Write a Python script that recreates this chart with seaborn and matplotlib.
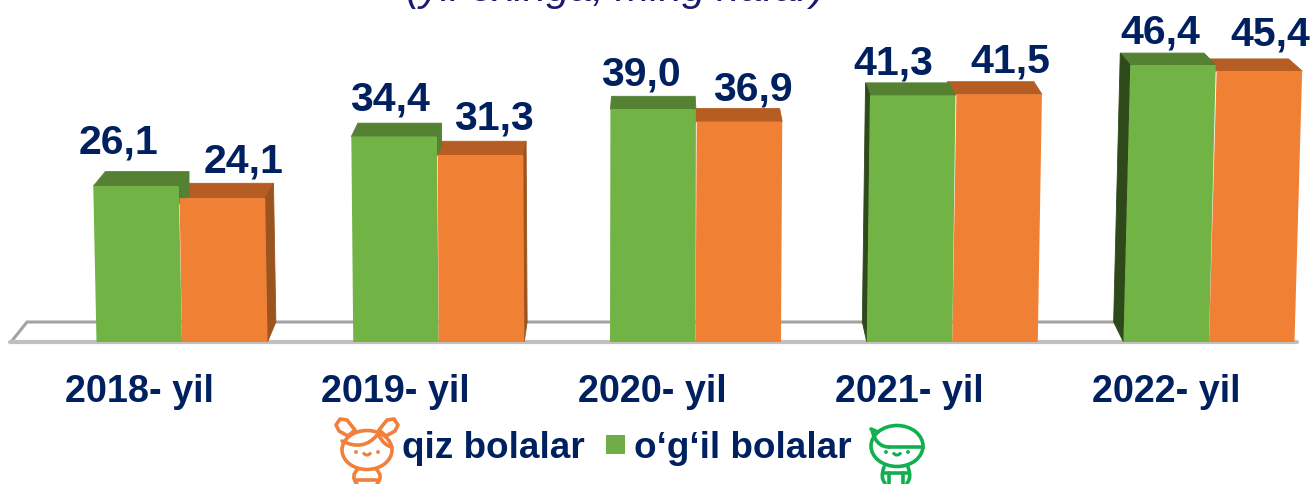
import matplotlib
matplotlib.use("Agg")
import matplotlib.pyplot as plt
from matplotlib.patches import Polygon, Circle, Arc, Rectangle, Ellipse, PathPatch
from matplotlib.path import Path
from matplotlib.transforms import Affine2D
import pandas as pd
import seaborn as sns

years = ["2018- yil", "2019- yil", "2020- yil", "2021- yil", "2022- yil"]
boys = [26.1, 34.4, 39.0, 41.3, 46.4]
girls = [24.1, 31.3, 36.9, 41.5, 45.4]
boy_name = "o‘g‘il bolalar"
girl_name = "qiz bolalar"
subtitle = "(yil oxiriga, ming nafar)"

NAVY = "#002060"
GREEN, ORANGE = "#72b345", "#f08033"
GREEN_TOP, ORANGE_TOP = "#548232", "#b55d22"
GREEN_SIDE, ORANGE_SIDE = "#2e4a1a", "#9c541f"
FONT = "Liberation Sans"

W, H = 1313, 484
BASE = 342
UX, UY = 256.75, 5.97   # pixels per data unit
X0 = 182

df = pd.DataFrame({
    "yil": years * 2,
    "qiymat": boys + girls,
    "jins": [boy_name] * 5 + [girl_name] * 5,
})

sns.set_theme(style="white")
plt.rcParams["font.family"] = [FONT, "DejaVu Sans"]
fig = plt.figure(figsize=(W / 100, H / 100), dpi=100)
ax = fig.add_axes([0, (H - BASE) / H, 1, BASE / H])
sns.barplot(data=df, x="yil", y="qiymat", hue="jins", hue_order=[boy_name, girl_name],
            palette=[GREEN, ORANGE], width=171 / UX, gap=0, saturation=1, legend=False,
            ax=ax, zorder=3)
ax.set_xlim(-X0 / UX, (W - X0) / UX)
ax.set_ylim(0, BASE / UY)
ax.set_xlabel("")
ax.set_ylabel("")
ax.set_yticks([])
ax.set_xticks([i - 43 / UX for i in range(len(years))], years)
ax.tick_params(axis="x", length=0, pad=23)
for lab in ax.get_xticklabels():
    lab.set(fontsize=27.2, fontweight="bold", color=NAVY, family=FONT)
for s in ax.spines.values():
    s.set_visible(False)
ax.patch.set_alpha(0)


def px(x, y):
    """pixel position -> data position"""
    return ((x - X0) / UX, (BASE - y) / UY)


# floor
ax.add_patch(Polygon([px(11, 342), px(27, 322), px(1125, 322)], closed=False, fill=False,
                     ec="#a3a3a3", lw=2.2, zorder=1))
ax.plot(*zip(px(10, 342), px(1297, 342)), color="#c0c0c0", lw=3, zorder=1, clip_on=False)

bars = [b for b in ax.patches if isinstance(b, Rectangle) and b.get_height() > 0]
n = len(years)
K = 4.4e-5   # leaning of the bars


def face_poly(points, color, z):
    ax.add_patch(Polygon(points, fc=color, ec=color, lw=0.6, zorder=z))


for i, b in enumerate(bars):
    is_boy = i < n
    xl = X0 + b.get_x() * UX
    xr = xl + b.get_width() * UX
    h = b.get_height() * UY
    s = K * ((xl + xr) / 2 - 610) * UY / UX
    b.set_transform(Affine2D.from_values(1, 0, s, 1, 0, 0) + ax.transData)
    b.set_edgecolor("none")
    lean = K * ((xl + xr) / 2 - 610) * h
    top = BASE - h
    tl, tr = xl + lean, xr + lean
    depth = lambda x: -(x - 660) * 0.0213
    dy = 18 - 0.022 * h
    extra = 0 if is_boy else 3
    face_poly([px(tl - extra, top), px(tr, top), px(tr + depth(tr), top - dy),
               px(tl + depth(tl) - extra, top - dy)],
              GREEN_TOP if is_boy else ORANGE_TOP, 2 if is_boy else 1.5)
    if is_boy and depth(tl) < 0:
        face_poly([px(xl, BASE), px(tl, top), px(tl + depth(tl), top - dy),
                   px(xl + depth(xl), BASE - 20)], GREEN_SIDE, 2)
    if is_boy and depth(tr) > 0:
        face_poly([px(tr, top), px(tr + depth(tr), top - dy),
                   px(tr + depth(tr), top + 10), px(tr, top + 18)], GREEN_TOP, 2)
    if not is_boy and depth(tr) > 0:
        face_poly([px(xr, BASE), px(tr, top), px(tr + depth(tr), top - dy),
                   px(xr + depth(xr), BASE - 20)], ORANGE_SIDE, 2)

# value labels: pixel offsets from the bar's top centre
offsets = [(-21, 33), (-6, 26), (-12, 24), (-16, 21), (-6, 21),
           (19, 26), (12, 26), (15, 21), (15, 22), (19, 25)]
values = boys + girls
for b, v, (dx, dy) in zip(bars, values, offsets):
    ax.annotate(f"{v:.1f}".replace(".", ","), (b.get_x() + b.get_width() / 2, v),
                xytext=(dx, dy), textcoords="offset pixels", ha="center", va="baseline",
                fontsize=29.5, fontweight="bold", color=NAVY, annotation_clip=False)

# overlay in pixel coordinates for subtitle, legend and the two figures
ov = fig.add_axes([0, 0, 1, 1], zorder=5)
ov.set_xlim(0, W)
ov.set_ylim(H, 0)
ov.axis("off")
ov.text(615, 1, subtitle, ha="center", va="baseline", fontsize=29.8, style="italic",
        color="#1b1a6b", clip_on=False)
ov.text(402, 458, girl_name, ha="left", va="baseline", fontsize=26.6, fontweight="bold", color=NAVY)
ov.text(634, 458, boy_name, ha="left", va="baseline", fontsize=26.6, fontweight="bold", color=NAVY)
ov.add_patch(Rectangle((606, 435), 19, 19, fc="#70ad47", ec="none"))

LW = 2.6


def curve(points, color):
    codes = [Path.MOVETO] + [Path.CURVE3] * (len(points) - 1)
    ov.add_patch(PathPatch(Path(points, codes), fc="none", ec=color, lw=LW, capstyle="round"))


def face_marks(cx, cy, color):
    for ex in (-11, 11):
        ov.add_patch(Circle((cx + ex, cy), 1.9, fc=color, ec="none"))
    ov.add_patch(Arc((cx, cy - 1), 8, 8, theta1=20, theta2=160, ec=color, lw=2.2))


# girl
GI = "#f0803a"
for sx in (-1, 1):
    ov.add_patch(Polygon([(367 + sx * 12, 430), (367 + sx * 20, 420), (367 + sx * 27, 419),
                          (367 + sx * 31, 425), (367 + sx * 28, 431), (367 + sx * 19, 436)],
                         fc="white", ec=GI, lw=LW, joinstyle="round"))
ov.add_patch(Ellipse((367, 450), 50, 39, fc="white", ec=GI, lw=LW))
curve([(342, 441), (364, 452), (378, 434)], GI)
curve([(378, 434), (384, 446), (392, 447)], GI)
face_marks(367, 452, GI)
curve([(358, 469), (350, 476), (357, 484)], GI)
curve([(376, 469), (384, 476), (377, 484)], GI)
ov.plot([357, 377], [480, 480], color=GI, lw=LW)

# boy
BO = "#10b04f"
ov.add_patch(Ellipse((897, 446), 52, 41, fc="white", ec=BO, lw=LW))
curve([(872, 430), (876, 447), (889, 447)], BO)
ov.plot([889, 923], [447, 447], color=BO, lw=LW)
ov.plot([871, 878], [429, 432], color=BO, lw=LW, solid_capstyle="round")
face_marks(897, 452, BO)
curve([(884, 467), (880, 478), (885, 483)], BO)
curve([(908, 467), (912, 478), (907, 483)], BO)
ov.plot([884, 908], [473, 473], color=BO, lw=LW)
ov.plot([889, 889], [473, 484], color=BO, lw=LW)
ov.plot([903, 903], [473, 484], color=BO, lw=LW)

fig.savefig("out.png", dpi=100)
